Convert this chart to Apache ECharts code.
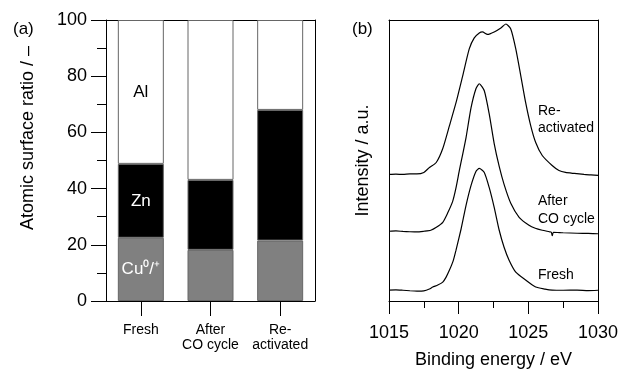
<!DOCTYPE html>
<html>
<head>
<meta charset="utf-8">
<script src="https://cdn.jsdelivr.net/npm/echarts@6/dist/echarts.min.js"></script>
<style>
  html, body { margin: 0; padding: 0; background: #fff; }
  #chart { width: 621px; height: 376px; }
</style>
</head>
<body>
<div id="chart"></div>
<script>
// (a) atomic surface ratio, stacked
const categories = ['Fresh', 'After\nCO cycle', 'Re-\nactivated']
const cuValues = [22.5, 18.2, 21.5]
const znValues = [26.3, 24.9, 46.5]
const alValues = [51.2, 56.9, 32.0]
const ratioTicks = [0, 20, 40, 60, 80, 100]

// (b) Cu 2p spectra, [binding energy, intensity (offset, a.u.)]
const freshSpectrum = [
  [1015, 11], [1015.5, 11.2], [1016, 10.8], [1016.5, 10.3], [1017, 10], [1017.5, 10.2],
  [1017.9, 12], [1018.14, 14], [1018.5, 16], [1018.86, 19], [1019.1, 24], [1019.34, 31],
  [1019.6, 40], [1019.81, 51], [1020.17, 72], [1020.53, 96], [1020.89, 116], [1021.24, 130],
  [1021.48, 133], [1021.84, 129], [1022.19, 114], [1022.55, 94], [1022.91, 71], [1023.26, 54],
  [1023.62, 41], [1024.1, 29], [1024.81, 21], [1025.53, 14], [1026.2, 12], [1026.71, 11],
  [1027.5, 10.8], [1028.5, 11], [1029.3, 10.5], [1030, 10.8]
]
const afterSpectrum = [
  [1015, 70], [1015.5, 70.3], [1016, 69.8], [1016.5, 69.5], [1017, 69.3], [1017.5, 70],
  [1018, 71], [1018.4, 74], [1018.86, 79], [1019.2, 88], [1019.57, 100], [1019.8, 113],
  [1020.05, 131], [1020.3, 148], [1020.53, 164], [1020.89, 194], [1021.24, 213], [1021.48, 218],
  [1021.84, 211], [1022.19, 188], [1022.55, 158], [1022.91, 135], [1023.26, 117], [1023.74, 98],
  [1024.34, 84], [1025.05, 76], [1025.5, 73], [1026, 71], [1026.5, 69.5], [1026.65, 69],
  [1026.72, 65.5], [1026.8, 69], [1027.5, 68.5], [1028.5, 68], [1029.3, 67.8], [1030, 67.5]
]
const reactSpectrum = [
  [1015, 127], [1015.5, 127.3], [1016, 127], [1016.5, 127.5], [1017, 127.5], [1017.5, 129],
  [1017.9, 134], [1018.39, 139], [1018.86, 153], [1019.34, 176], [1019.81, 199], [1020.29, 226],
  [1020.76, 253], [1021.12, 264], [1021.48, 269], [1021.71, 270], [1022.07, 267.5], [1022.55, 270],
  [1023.03, 274], [1023.39, 278], [1023.74, 273], [1024.1, 253], [1024.46, 226], [1024.81, 199],
  [1025.17, 176], [1025.53, 159], [1026, 146], [1026.71, 136], [1027.2, 131], [1027.67, 129],
  [1028.3, 128], [1029, 127], [1029.5, 126.5], [1030, 126]
]
const energyTicks = [1015, 1020, 1025, 1030]

const FONT = '"Liberation Sans", Arial, sans-serif'
const black = { color: '#000', width: 1 }

// only the Fresh bar carries the element labels
function stackData(values, text, color) {
  return values.map((v, i) => i === 0
    ? { value: v, label: { show: true, position: 'inside', formatter: text, color: color, fontSize: 17, fontFamily: FONT } }
    : v)
}

// bare axis used only to close the frame (top / right)
function frameAxis(gridIndex, position) {
  return {
    gridIndex, position, type: 'value', min: 0, max: 1,
    axisLine: { show: true, onZero: false, lineStyle: black },
    axisTick: { show: false }, axisLabel: { show: false }, splitLine: { show: false }
  }
}

const xAxis = [
  {
    gridIndex: 0, type: 'category', data: categories,
    axisLine: { show: true, onZero: false, lineStyle: black },
    axisTick: { show: true, alignWithLabel: true, length: 15, lineStyle: black },
    axisLabel: { interval: 0, color: '#000', fontSize: 14, lineHeight: 15, margin: 22, fontFamily: FONT }
  },
  {
    gridIndex: 1, type: 'value',
    min: energyTicks[0], max: energyTicks[energyTicks.length - 1], interval: 5,
    name: 'Binding energy / eV', nameLocation: 'middle', nameGap: 50,
    nameTextStyle: { fontSize: 18, color: '#000', fontFamily: FONT },
    axisLine: { show: true, onZero: false, lineStyle: black },
    axisTick: { show: true, length: 13, lineStyle: black },
    minorTick: { show: true, splitNumber: 2, length: 7, lineStyle: black },
    splitLine: { show: false },
    axisLabel: { color: '#000', fontSize: 18, margin: 23, fontFamily: FONT, formatter: (x) => String(x) }
  },
  frameAxis(0, 'top'),
  frameAxis(1, 'top')
]

const yAxis = [
  {
    gridIndex: 0, type: 'value',
    min: ratioTicks[0], max: ratioTicks[ratioTicks.length - 1], interval: 20,
    axisLine: { show: true, onZero: false, lineStyle: black },
    axisTick: { show: true, length: 15, lineStyle: black },
    minorTick: { show: true, splitNumber: 2, length: 9, lineStyle: black },
    splitLine: { show: false },
    axisLabel: { color: '#000', fontSize: 18, margin: 19, fontFamily: FONT }
  },
  {
    gridIndex: 1, type: 'value', min: 0, max: 282,
    name: 'Intensity / a.u.', nameLocation: 'middle', nameGap: 17,
    nameTextStyle: { fontSize: 18, color: '#000', fontFamily: FONT },
    axisLine: { show: true, onZero: false, lineStyle: black },
    axisTick: { show: false }, axisLabel: { show: false }, splitLine: { show: false }
  },
  frameAxis(0, 'right'),
  frameAxis(1, 'right')
]

const spectrumLine = (data) => ({
  type: 'line', xAxisIndex: 1, yAxisIndex: 1, showSymbol: false, smooth: 0.2,
  lineStyle: { color: '#000', width: 1.2 }, data
})

const series = [
  { type: 'bar', stack: 'r', xAxisIndex: 0, yAxisIndex: 0, barWidth: 46,
    itemStyle: { color: '#808080', borderColor: '#666', borderWidth: 1 }, data: stackData(cuValues, 'Cu⁰/⁺', '#fff') },
  { type: 'bar', stack: 'r', xAxisIndex: 0, yAxisIndex: 0, barWidth: 46,
    itemStyle: { color: '#000', borderColor: '#666', borderWidth: 1 }, data: stackData(znValues, 'Zn', '#fff') },
  { type: 'bar', stack: 'r', xAxisIndex: 0, yAxisIndex: 0, barWidth: 46,
    itemStyle: { color: '#fff', borderColor: '#666', borderWidth: 1 }, data: stackData(alValues, 'Al', '#000') },
  spectrumLine(freshSpectrum),
  spectrumLine(afterSpectrum),
  spectrumLine(reactSpectrum)
]

const chart = echarts.init(document.getElementById('chart'))
chart.setOption({
  animation: false,
  backgroundColor: '#fff',
  grid: [
    { left: 106, right: 306, top: 20, bottom: 75 },
    { left: 389, right: 22, top: 20, bottom: 75 }
  ],
  xAxis, yAxis, series,
  graphic: [
    { type: 'text', left: 13, top: 21, style: { text: '(a)', fontSize: 17, fontFamily: FONT, fill: '#000' } },
    { type: 'text', left: 352, top: 21, style: { text: '(b)', fontSize: 17, fontFamily: FONT, fill: '#000' } },
    { type: 'text', x: 28, y: 138, rotation: Math.PI / 2,
      style: { text: 'Atomic surface ratio / –', fontSize: 18, fontFamily: FONT, fill: '#000',
        textAlign: 'center', textVerticalAlign: 'middle' } },
    { type: 'text', left: 538, top: 103, style: { text: 'Re-\nactivated', fontSize: 14, lineHeight: 17, fontFamily: FONT, fill: '#000' } },
    { type: 'text', left: 538, top: 192, style: { text: 'After\nCO cycle', fontSize: 14, lineHeight: 18, fontFamily: FONT, fill: '#000' } },
    { type: 'text', left: 538, top: 268, style: { text: 'Fresh', fontSize: 14, fontFamily: FONT, fill: '#000' } }
  ]
})
</script>
</body>
</html>
